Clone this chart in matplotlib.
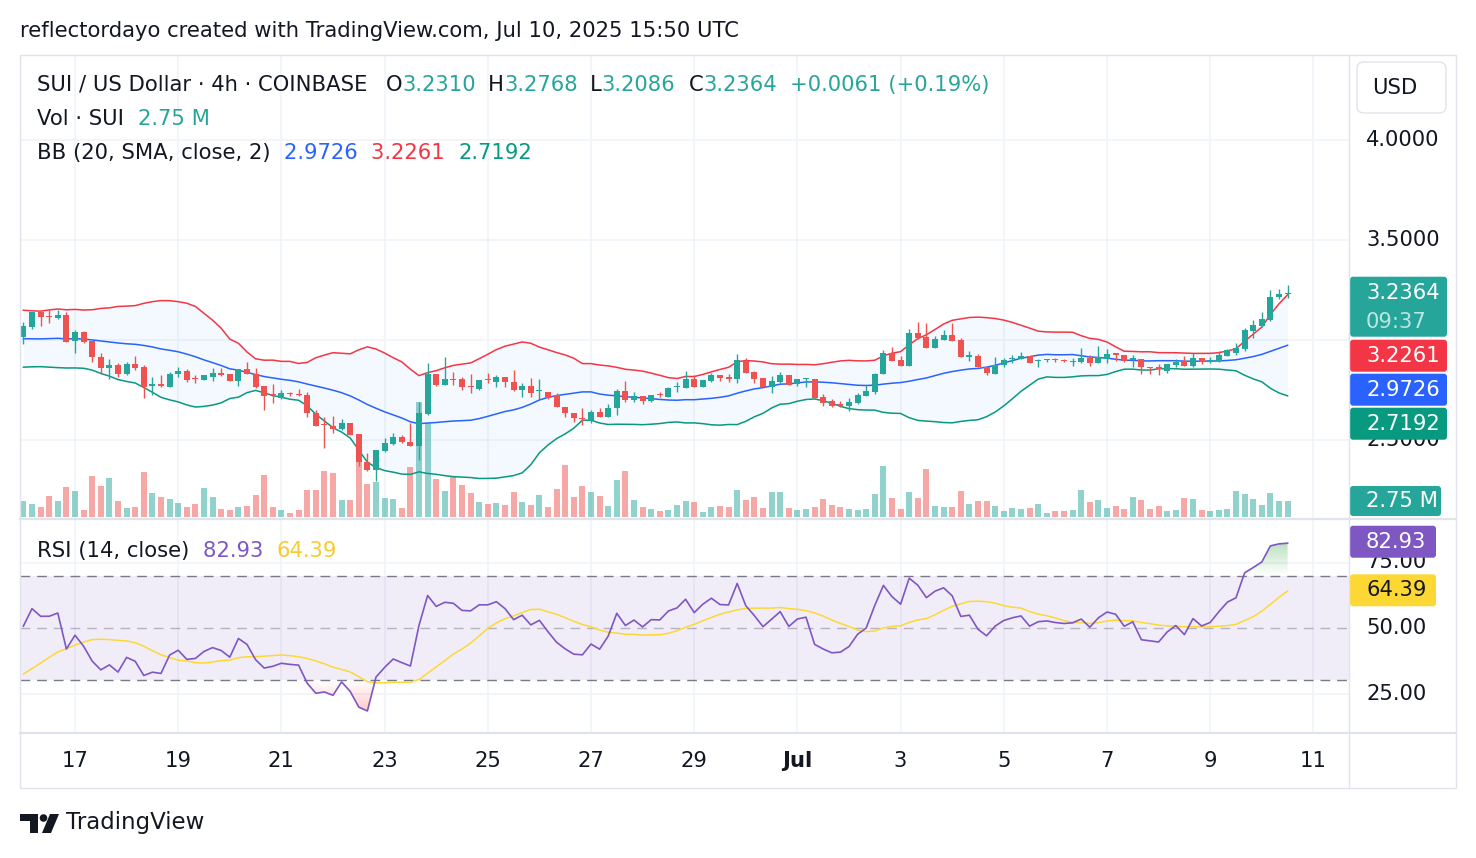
import numpy as np
import pandas as pd
import matplotlib
matplotlib.use("Agg")
import matplotlib.pyplot as plt
from matplotlib.patches import FancyBboxPatch, Polygon, Circle
from matplotlib.path import Path
from matplotlib.transforms import blended_transform_factory as blend

plt.rcParams['font.family'] = ['DejaVu Sans']

# SUI / USD 4h candles, first bar 2025-06-16 00:00 UTC
first_bar = "2025-06-16 00:00"

opens = [3.017, 3.067, 3.138, 3.120, 3.108, 3.125, 2.997, 3.042, 2.995, 2.913,
         2.858, 2.875, 2.830, 2.880, 2.863, 2.770, 2.778, 2.767, 2.830, 2.847,
         2.808, 2.800, 2.817, 2.837, 2.830, 2.797, 2.853, 2.830, 2.770, 2.728,
         2.710, 2.733, 2.730, 2.725, 2.637, 2.580, 2.572, 2.555, 2.587, 2.530,
         2.392, 2.350, 2.447, 2.480, 2.513, 2.492, 2.472, 2.630, 2.830, 2.775,
         2.805, 2.805, 2.770, 2.755, 2.805, 2.792, 2.813, 2.792, 2.750, 2.770,
         2.745, 2.742, 2.725, 2.663, 2.637, 2.610, 2.600, 2.638, 2.617, 2.658,
         2.745, 2.700, 2.722, 2.697, 2.728, 2.717, 2.763, 2.762, 2.805, 2.767,
         2.797, 2.825, 2.813, 2.803, 2.897, 2.842, 2.812, 2.767, 2.792, 2.825,
         2.780, 2.803, 2.805, 2.717, 2.697, 2.680, 2.672, 2.687, 2.722, 2.742,
         2.828, 2.933, 2.900, 2.872, 3.037, 3.013, 2.962, 3.000, 3.025, 3.000,
         2.917, 2.920, 2.867, 2.830, 2.875, 2.905, 2.905, 2.920, 2.893, 2.900,
         2.903, 2.900, 2.888, 2.888, 2.908, 2.887, 2.903, 2.933, 2.925, 2.900,
         2.903, 2.867, 2.867, 2.847, 2.875, 2.895, 2.870, 2.908, 2.892, 2.895,
         2.920, 2.937, 2.953, 3.047, 3.072, 3.100, 3.213, 3.2310]
highs = [3.092, 3.138, 3.142, 3.153, 3.150, 3.138, 3.050, 3.045, 2.995, 2.933,
         2.903, 2.883, 2.892, 2.920, 2.875, 2.813, 2.825, 2.842, 2.867, 2.853,
         2.825, 2.825, 2.858, 2.858, 2.830, 2.853, 2.892, 2.858, 2.770, 2.780,
         2.750, 2.740, 2.755, 2.738, 2.650, 2.617, 2.620, 2.603, 2.587, 2.530,
         2.433, 2.450, 2.508, 2.533, 2.525, 2.583, 2.692, 2.883, 2.830, 2.913,
         2.842, 2.813, 2.830, 2.800, 2.833, 2.825, 2.813, 2.850, 2.783, 2.808,
         2.805, 2.742, 2.733, 2.663, 2.637, 2.658, 2.650, 2.662, 2.680, 2.753,
         2.795, 2.738, 2.722, 2.725, 2.738, 2.763, 2.792, 2.847, 2.825, 2.800,
         2.837, 2.825, 2.830, 2.930, 2.908, 2.847, 2.812, 2.820, 2.838, 2.825,
         2.803, 2.812, 2.805, 2.730, 2.705, 2.697, 2.708, 2.733, 2.775, 2.833,
         2.950, 2.967, 2.920, 3.055, 3.092, 3.087, 3.020, 3.050, 3.087, 3.008,
         2.945, 2.930, 2.872, 2.913, 2.908, 2.925, 2.942, 2.920, 2.905, 2.905,
         2.908, 2.905, 2.908, 2.958, 2.925, 2.970, 2.953, 2.933, 2.925, 2.925,
         2.903, 2.867, 2.880, 2.878, 2.903, 2.920, 2.933, 2.908, 2.913, 2.947,
         2.953, 2.983, 3.058, 3.100, 3.138, 3.250, 3.253, 3.2768]
lows = [2.980, 3.053, 3.072, 3.087, 3.103, 2.988, 2.933, 2.983, 2.892, 2.828,
        2.803, 2.817, 2.825, 2.850, 2.708, 2.725, 2.763, 2.763, 2.817, 2.792,
        2.787, 2.800, 2.797, 2.820, 2.797, 2.770, 2.830, 2.758, 2.650, 2.687,
        2.705, 2.722, 2.722, 2.617, 2.572, 2.458, 2.533, 2.550, 2.525, 2.372,
        2.347, 2.295, 2.442, 2.475, 2.483, 2.472, 2.400, 2.625, 2.770, 2.775,
        2.775, 2.750, 2.737, 2.750, 2.783, 2.763, 2.767, 2.747, 2.717, 2.713,
        2.705, 2.705, 2.663, 2.617, 2.592, 2.575, 2.583, 2.617, 2.617, 2.625,
        2.692, 2.692, 2.680, 2.688, 2.717, 2.713, 2.742, 2.758, 2.767, 2.767,
        2.792, 2.797, 2.792, 2.783, 2.833, 2.787, 2.763, 2.737, 2.787, 2.775,
        2.770, 2.767, 2.708, 2.670, 2.663, 2.663, 2.647, 2.680, 2.722, 2.728,
        2.828, 2.897, 2.872, 2.872, 3.003, 2.962, 2.962, 3.000, 2.997, 2.917,
        2.895, 2.863, 2.825, 2.830, 2.863, 2.883, 2.905, 2.883, 2.863, 2.888,
        2.892, 2.890, 2.870, 2.883, 2.870, 2.887, 2.887, 2.897, 2.892, 2.867,
        2.830, 2.830, 2.825, 2.837, 2.863, 2.872, 2.867, 2.880, 2.883, 2.892,
        2.920, 2.925, 2.947, 3.008, 3.067, 3.097, 3.203, 3.2086]
closes = [3.070, 3.138, 3.113, 3.113, 3.125, 2.992, 3.042, 2.992, 2.913, 2.858,
          2.875, 2.830, 2.880, 2.858, 2.767, 2.778, 2.770, 2.830, 2.847, 2.800,
          2.803, 2.825, 2.837, 2.825, 2.797, 2.853, 2.830, 2.763, 2.720, 2.725,
          2.733, 2.728, 2.725, 2.637, 2.572, 2.575, 2.553, 2.583, 2.525, 2.392,
          2.350, 2.450, 2.483, 2.513, 2.492, 2.472, 2.637, 2.830, 2.775, 2.805,
          2.800, 2.767, 2.765, 2.800, 2.800, 2.817, 2.792, 2.750, 2.770, 2.733,
          2.752, 2.708, 2.663, 2.633, 2.608, 2.605, 2.638, 2.617, 2.658, 2.745,
          2.700, 2.722, 2.697, 2.725, 2.724, 2.758, 2.770, 2.805, 2.767, 2.800,
          2.825, 2.808, 2.807, 2.900, 2.837, 2.805, 2.767, 2.795, 2.825, 2.775,
          2.803, 2.810, 2.708, 2.687, 2.670, 2.672, 2.688, 2.725, 2.745, 2.830,
          2.933, 2.897, 2.872, 3.033, 3.008, 2.962, 3.003, 3.025, 2.997, 2.917,
          2.923, 2.863, 2.833, 2.875, 2.900, 2.912, 2.920, 2.883, 2.900, 2.903,
          2.898, 2.895, 2.897, 2.908, 2.887, 2.913, 2.930, 2.925, 2.897, 2.908,
          2.863, 2.860, 2.857, 2.878, 2.892, 2.872, 2.908, 2.892, 2.900, 2.925,
          2.950, 2.962, 3.050, 3.075, 3.103, 3.213, 3.2303, 3.2364]
# volume, millions of SUI
volumes = [2.75, 2.23, 1.72, 3.61, 2.75, 5.16, 4.47, 1.20, 7.05, 5.33,
           6.70, 2.75, 1.55, 1.72, 7.74, 4.13, 3.44, 3.10, 2.40, 1.72,
           2.23, 4.99, 3.44, 1.38, 1.20, 1.72, 1.89, 3.78, 7.22, 1.72,
           1.20, 0.69, 1.20, 4.64, 4.64, 7.90, 7.56, 2.92, 2.92, 9.63,
           5.67, 6.00, 3.27, 3.10, 1.55, 8.60, 19.8, 16.1, 6.53, 4.47,
           6.93, 5.50, 4.13, 2.58, 2.23, 2.40, 2.06, 4.30, 2.58, 2.06,
           3.78, 1.72, 4.81, 8.94, 3.44, 5.33, 4.30, 3.61, 1.89, 6.36,
           7.90, 2.92, 1.72, 1.38, 1.03, 1.20, 2.06, 2.75, 2.58, 0.86,
           1.72, 1.89, 1.72, 4.64, 2.92, 3.44, 1.55, 4.30, 4.30, 1.55,
           1.20, 1.38, 1.72, 3.10, 2.06, 1.72, 1.38, 1.20, 1.38, 3.95,
           8.77, 3.27, 1.38, 4.30, 3.27, 8.25, 1.89, 1.72, 1.72, 4.47,
           2.23, 2.75, 2.75, 1.89, 1.03, 1.55, 1.38, 1.55, 2.23, 0.69,
           1.03, 1.03, 1.20, 4.64, 2.64, 2.98, 1.60, 1.95, 1.43, 3.50,
           2.98, 1.43, 1.95, 1.09, 1.26, 3.32, 3.15, 1.26, 1.09, 1.26,
           1.43, 4.53, 4.01, 3.15, 2.12, 4.18, 2.81, 2.75]
# closes before the visible window, estimated so the indicators warm up
earlier_closes = [3.30, 3.28, 3.31, 3.27, 3.24, 3.26, 3.22, 3.20, 3.23, 3.19,
                  3.16, 3.18, 3.14, 3.12,
                  3.15, 3.12, 3.08, 3.10, 3.05, 3.02, 3.04, 2.99, 2.96, 2.98,
                  2.93, 2.96, 2.91, 2.88, 2.93, 2.97, 2.96, 3.00, 3.03]
# indicator read-outs shown in the legend
bb_readout = [2.9726, 3.2261, 2.7192]   # basis, upper, lower
rsi_readout = [82.93, 64.39]            # rsi, rsi-based MA
countdown = "09:37"
price_labels = [2.5, 3.5, 4.0]          # 3.0000 is hidden behind the tags
rsi_labels = [25, 50, 75]

UP, DN = '#26a69a', '#ef5350'
TXT = '#131722'
GRID = '#f0f3fa'
LINE = '#e0e3eb'

W, H = 1476, 858
fig = plt.figure(figsize=(W / 100, H / 100), dpi=100)


def fbox(x0, y0, x1, y1):
    return [x0 / W, 1 - y1 / H, (x1 - x0) / W, (y1 - y0) / H]


n = len(closes)
x = np.arange(n)
o, h, l, c = map(np.array, (opens, highs, lows, closes))
v = np.array(volumes)
up = c >= o
XL = ((20 - 23.4) / 8.6, (1349 - 23.4) / 8.6)

t0 = pd.Timestamp(first_bar)
tick_dates = pd.date_range("2025-06-17", "2025-07-11", freq="2D")
tick_x = np.array((tick_dates - t0) / pd.Timedelta("4h"))
tick_lab = [d.strftime('%b') if d.day == 1 else str(d.day) for d in tick_dates]

# indicators
s = pd.Series(earlier_closes + closes)
basis = s.rolling(20).mean()
dev = s.rolling(20).std(ddof=0)
bb_mid = basis.values[-n:]
bb_up = (basis + 2 * dev).values[-n:]
bb_lo = (basis - 2 * dev).values[-n:]


def rma(vals, k):
    out = np.full(len(vals), np.nan)
    out[k] = np.mean(vals[1:k + 1])
    for j in range(k + 1, len(vals)):
        out[j] = (out[j - 1] * (k - 1) + vals[j]) / k
    return out


d = s.diff().values
g = rma(np.where(d > 0, d, 0.0), 14)
ls = rma(np.where(d < 0, -d, 0.0), 14)
rsi_full = 100 - 100 / (1 + g / ls)
rsi = rsi_full[-n:]
rsi_ma = pd.Series(rsi_full).rolling(14).mean().values[-n:]

# volume (underneath), price pane, rsi pane
axv = fig.add_axes(fbox(20, 55, 1349, 519))
ax = fig.add_axes(fbox(20, 55, 1349, 519))
axr = fig.add_axes(fbox(20, 519, 1349, 733))
for a in (axv, ax, axr):
    a.set_xlim(*XL)
    a.set_xticks([])
    a.set_yticks([])
    for sp in a.spines.values():
        sp.set_visible(False)
ax.patch.set_visible(False)
ax.set_ylim(3 - 179 / 200, 3 + 285 / 200)
axv.set_ylim(-2 * 0.172, 462 * 0.172)
axr.set_ylim(50 - 105 / 2.62, 50 + 109 / 2.62)

for tx in tick_x:
    axv.axvline(tx, color=GRID, lw=1.2, zorder=0)
    axr.axvline(tx, color=GRID, lw=1.2, zorder=0)
bt = blend(axv.transAxes, ax.transData)
for p in (2.5, 3.0, 3.5, 4.0):
    axv.plot([0, 1], [p, p], transform=bt, color=GRID, lw=1.2, zorder=0)

axv.bar(x, v, width=0.7, color=np.where(up, UP, DN), alpha=0.5, lw=0, zorder=1)

ax.fill_between(x, bb_up, bb_lo, color='#2196f3', alpha=0.05, lw=0, zorder=1)
ax.plot(x, bb_up, color='#f23645', lw=1.1, zorder=2)
ax.plot(x, bb_mid, color='#2962ff', lw=1.1, zorder=2)
ax.plot(x, bb_lo, color='#089981', lw=1.1, zorder=2)
cols = np.where(up, UP, DN)
ax.vlines(x, l, h, colors=cols, lw=1.0, zorder=3)
ax.bar(x, np.maximum(np.abs(c - o), 0.004), bottom=np.minimum(o, c), width=0.72,
       color=cols, lw=0, zorder=4)

# RSI pane
for lv in (25, 75):
    axr.axhline(lv, color=GRID, lw=1.2, zorder=0)
axr.axhspan(30, 70, color='#7e57c2', alpha=0.1, lw=0, zorder=1)
dash = (0, (7, 5))
axr.axhline(70, color='#787b86', lw=1, ls=dash, zorder=2)
axr.axhline(30, color='#787b86', lw=1, ls=dash, zorder=2)
axr.axhline(50, color='#787b86', lw=1, ls=dash, alpha=0.5, zorder=2)


def grad_fill(level, above, rgb, far, amax):
    mask = rsi > level if above else rsi < level
    coll = axr.fill_between(x, rsi, level, where=mask, interpolate=True,
                            facecolor='none', edgecolor='none')
    paths = coll.get_paths()
    if not paths:
        return
    img = np.zeros((256, 1, 4))
    img[..., :3] = matplotlib.colors.to_rgb(rgb)
    ramp = np.linspace(0, amax, 256)
    img[:, 0, 3] = ramp if above else ramp[::-1]
    lo_, hi_ = (level, far) if above else (far, level)
    im = axr.imshow(img, extent=[x[0], x[-1], lo_, hi_], origin='lower',
                    aspect='auto', zorder=2.5, interpolation='bilinear')
    im.set_clip_path(Path.make_compound_path(*paths), transform=axr.transData)


grad_fill(70, True, '#4caf50', 85, 0.45)
grad_fill(30, False, '#ff5252', 15, 0.4)
axr.plot(x, rsi_ma, color='#fdd835', lw=1.1, zorder=3)
axr.plot(x, rsi, color='#7e57c2', lw=1.2, zorder=4)
axr.set_xlim(*XL)
axr.set_ylim(50 - 105 / 2.62, 50 + 109 / 2.62)

# overlay in pixel coordinates
ov = fig.add_axes([0, 0, 1, 1], zorder=10)
ov.set_xlim(0, W)
ov.set_ylim(H, 0)
ov.axis('off')


def py(a, val):
    return H - a.transData.transform((0, val))[1]


FS = 15.2
ov.text(20, 31, "reflectordayo created with TradingView.com, Jul 10, 2025 15:50 UTC",
        fontsize=FS, color=TXT, va='center')

# frame
ov.add_patch(plt.Rectangle((20, 55), 1436, 733, fill=False, ec=LINE, lw=1))
ov.plot([1349, 1349], [55, 788], color=LINE, lw=1)
ov.plot([20, 1456], [519, 519], color=LINE, lw=1.6)
ov.plot([20, 1456], [733, 733], color=LINE, lw=1.6)


def chain(parts, x0, y):
    t = ov.text(x0, y, parts[0][0], color=parts[0][1], fontsize=FS, va='center')
    for txt, col in parts[1:]:
        t = ov.annotate(txt, xy=(1, 0), xycoords=t, va='bottom', color=col, fontsize=FS)


chg = c[-1] - c[-2]
ov.text(37, 85, "SUI / US Dollar · 4h · COINBASE", fontsize=FS, color=TXT, va='center')
for lab, val, xx in (("O", o[-1], 386), ("H", h[-1], 488), ("L", l[-1], 590), ("C", c[-1], 689)):
    chain([(lab, TXT), (f"{val:.4f}", UP)], xx, 85)
ov.text(790, 85, f"{chg:+.4f} ({chg / c[-2] * 100:+.2f}%)", fontsize=FS, color=UP, va='center')
chain([("Vol · SUI  ", TXT), (f"{v[-1]:.2f} M", UP)], 37, 119)
chain([("BB (20, SMA, close, 2)  ", TXT), (f"{bb_readout[0]:.4f}  ", '#2962ff'),
       (f"{bb_readout[1]:.4f}  ", '#f23645'), (f"{bb_readout[2]:.4f}", '#089981')], 37, 153)
chain([("RSI (14, close)  ", TXT), (f"{rsi_readout[0]:.2f}  ", '#7e57c2'),
       (f"{rsi_readout[1]:.2f}", '#f7cb2d')], 37, 551)

# right price scale (labels sit under the value tags)
ov.add_patch(FancyBboxPatch((1357, 62), 89, 51, boxstyle="round,pad=0,rounding_size=7",
                            fc='white', ec=LINE, lw=1, zorder=1))
ov.text(1395, 88, "USD", fontsize=FS, color=TXT, ha='center', va='center', zorder=2)
for p in price_labels:
    ov.text(1366, py(ax, p), f"{p:.4f}", fontsize=FS, color=TXT, va='center', zorder=0.5)
for r in rsi_labels:
    ov.text(1366, py(axr, r), f"{r:.2f}", fontsize=FS, color=TXT, va='center', zorder=0.5)


def tag(y0, y1, color, x1=1447):
    ov.add_patch(FancyBboxPatch((1350, y0), x1 - 1350, y1 - y0,
                                boxstyle="round,pad=0,rounding_size=3", fc=color, ec='none',
                                zorder=1))


def tag_text(y, s_, col='white', alpha=1.0):
    ov.text(1366, y, s_, fontsize=FS, color=col, alpha=alpha, va='center', zorder=2)


yl = py(ax, c[-1])
tag(yl - 16, yl + 44, UP)
tag_text(yl, f"{c[-1]:.4f}")
tag_text(yl + 29, countdown, alpha=0.7)
for k, (val, col) in enumerate(zip([bb_readout[1], bb_readout[0], bb_readout[2]],
                                   ['#f23645', '#2962ff', '#089981'])):
    y0 = yl + 47 + 34 * k
    tag(y0, y0 + 32, col)
    tag_text(y0 + 16, f"{val:.4f}")
yv = py(axv, v[-1])
tag(yv - 15, yv + 15, UP, 1441)
tag_text(yv, f"{v[-1]:.2f} M")
for val, col, tc in ((rsi_readout[0], '#7e57c2', 'white'), (rsi_readout[1], '#fdd835', TXT)):
    yr = py(axr, val)
    tag(yr - 16, yr + 16, col, 1436)
    tag_text(yr, f"{val:.2f}", tc)

# time axis
for tx, lab in zip(tick_x, tick_lab):
    xp = ax.transData.transform((tx, 0))[0]
    ov.text(xp, 761, lab, fontsize=FS, color=TXT, ha='center', va='center',
            fontweight='bold' if not lab.isdigit() else 'normal')

# TradingView logo
ov.add_patch(Polygon([(20, 814), (38, 814), (38, 833), (30, 833), (30, 821), (20, 821)],
                     closed=True, fc=TXT, ec='none'))
ov.add_patch(Circle((43.5, 818), 3.8, fc=TXT, ec='none'))
ov.add_patch(Polygon([(50, 814), (59, 814), (51, 833), (42, 833)], closed=True, fc=TXT, ec='none'))
ov.text(66, 823, "TradingView", fontsize=16.5, color=TXT, va='center')

fig.savefig("out.png", dpi=100)
